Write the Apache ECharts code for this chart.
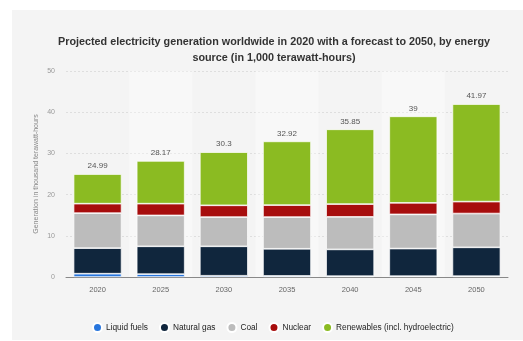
<!DOCTYPE html>
<html>
<head>
<meta charset="utf-8">
<script src="https://cdn.jsdelivr.net/npm/echarts@6/dist/echarts.min.js"></script>
<style>
  html, body { margin: 0; padding: 0; background: #ffffff; }
  #chart { width: 523px; height: 341px; }
</style>
</head>
<body>
<div id="chart"></div>
<script>
// Electricity generation by source, in thousand terawatt-hours
const years = ['2020', '2025', '2030', '2035', '2040', '2045', '2050'];
const liquidFuels = [0.8, 0.7, 0.3, 0.25, 0.2, 0.2, 0.2];
const naturalGas  = [6.2, 6.75, 7.15, 6.6, 6.5, 6.7, 7.0];
const coal        = [8.5, 7.5, 7.1, 7.7, 7.9, 8.3, 8.2];
const nuclear     = [2.3, 2.85, 2.85, 2.9, 3.1, 2.8, 2.9];
const renewables  = [7.19, 10.37, 12.9, 15.47, 18.15, 21.0, 23.67];
const yTicks = [0, 10, 20, 30, 40, 50];

const seriesDefs = [
  { name: 'Liquid fuels', data: liquidFuels, color: '#2876dd' },
  { name: 'Natural gas', data: naturalGas, color: '#10263d' },
  { name: 'Coal', data: coal, color: '#bcbcbc' },
  { name: 'Nuclear', data: nuclear, color: '#a70d0d' },
  { name: 'Renewables (incl. hydroelectric)', data: renewables, color: '#8bbb22' }
];

function totalAt(i) {
  let s = 0;
  seriesDefs.forEach(d => { s += d.data[i]; });
  return parseFloat(s.toFixed(2));
}

const chart = echarts.init(document.getElementById('chart'), null, { renderer: 'canvas' });

const series = seriesDefs.map((d, idx) => ({
  name: d.name,
  type: 'bar',
  stack: 'total',
  data: d.data,
  barCategoryGap: '24%',
  itemStyle: { color: d.color, borderColor: '#ffffff', borderWidth: 0.7 },
  emphasis: { disabled: true },
  label: idx === seriesDefs.length - 1 ? {
    show: true,
    position: 'top',
    distance: 4,
    fontFamily: 'Liberation Sans',
    fontSize: 8,
    color: '#555',
    formatter: p => String(totalAt(p.dataIndex))
  } : { show: false }
}));

chart.setOption({
  animation: false,
  backgroundColor: '#ffffff',
  graphic: [{
    type: 'rect',
    z: -10,
    silent: true,
    shape: { x: 12, y: 10, width: 511, height: 330 },
    style: { fill: '#f4f4f4' }
  }],
  title: {
    text: 'Projected electricity generation worldwide in 2020 with a forecast to 2050, by energy\nsource (in 1,000 terawatt-hours)',
    left: 269,
    top: 29,
    textAlign: 'center',
    textStyle: {
      fontFamily: 'Liberation Sans',
      fontSize: 10.8,
      fontWeight: 'bold',
      color: '#333',
      lineHeight: 16
    }
  },
  legend: {
    data: seriesDefs.map(d => d.name),
    left: 87,
    top: 317,
    icon: 'circle',
    itemWidth: 9,
    itemHeight: 9,
    itemGap: 11,
    textStyle: {
      fontFamily: 'Liberation Sans',
      fontSize: 8.3,
      color: '#222',
      padding: [0, 0, 0, -1]
    }
  },
  grid: { left: 66, right: 15, top: 71, bottom: 64 },
  xAxis: {
    type: 'category',
    data: years,
    axisLine: { lineStyle: { color: '#888', width: 1 } },
    axisTick: { show: false },
    axisLabel: {
      fontFamily: 'Liberation Sans',
      fontSize: 7.5,
      color: '#666',
      margin: 9
    },
    splitArea: {
      show: true,
      areaStyle: { color: ['rgba(255,255,255,0)', 'rgba(255,255,255,0.35)'] }
    }
  },
  yAxis: {
    type: 'value',
    min: yTicks[0],
    max: yTicks[yTicks.length - 1],
    interval: 10,
    name: 'Generation in thousand terawatt-hours',
    nameLocation: 'middle',
    nameGap: 26,
    nameMoveOverlap: false,
    nameTextStyle: {
      fontFamily: 'Liberation Sans',
      fontSize: 7,
      color: '#888'
    },
    axisLine: { show: false },
    axisTick: { show: false },
    axisLabel: {
      fontFamily: 'Liberation Sans',
      fontSize: 7,
      color: '#999',
      margin: 11
    },
    splitLine: { lineStyle: { color: '#d8d8d8', type: [2, 2], width: 0.8 } }
  },
  series: series
});
</script>
</body>
</html>
